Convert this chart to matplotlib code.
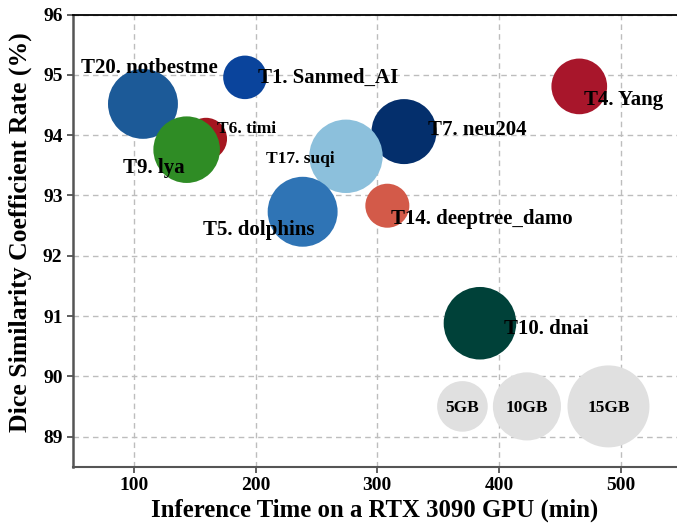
import matplotlib
matplotlib.use("Agg")
import matplotlib.pyplot as plt
import numpy as np

# ---- data ----
teams = ["T20. notbestme", "T1. Sanmed_AI", "T6. timi", "T9. lya", "T7. neu204",
         "T17. suqi", "T5. dolphins", "T14. deeptree_damo", "T4. Yang", "T10. dnai"]
time_min = [107.5, 191.3, 159.3, 143.4, 322.0, 274.3, 238.7, 308.3, 466.0, 384.4]
dsc = [94.52, 94.96, 93.94, 93.76, 94.06, 93.65, 92.73, 92.83, 94.81, 90.88]
memory_gb = [10.6, 3.4, 3.1, 9.5, 9.0, 11.8, 10.6, 3.5, 6.3, 11.5]
colors = ["#1c5a98", "#0a449c", "#a5161f", "#2f8c25", "#042f6c",
          "#8cc0dc", "#2f74b5", "#d35a49", "#a8162b", "#004139"]

legend_gb = [5, 10, 15]
legend_time = [370, 423, 490]
legend_dsc = [89.5, 89.5, 89.5]

# label placement (offset in pixels from bubble centre, alignment, size)
label_style = {
    "T20. notbestme": (6, 31, "center", 15),
    "T1. Sanmed_AI": (13, -6, "left", 15),
    "T6. timi": (11, 6, "left", 12.5),
    "T9. lya": (-64, -23, "left", 15),
    "T7. neu204": (24, -3, "left", 15),
    "T17. suqi": (-11, -7, "right", 12.5),
    "T5. dolphins": (12, -23, "right", 15),
    "T14. deeptree_damo": (4, -18, "left", 15),
    "T4. Yang": (5, -19, "left", 15),
    "T10. dnai": (24, -11, "left", 15),
}

DPI = 100
PX2PT = 72.0 / DPI


def size_from_gb(gb):
    area_px = 104.0 * np.asarray(gb, dtype=float) + 120.0
    return 4.0 * area_px * PX2PT ** 2  # s in points^2 (diameter^2)


plt.rcParams["font.family"] = ["Liberation Serif", "DejaVu Serif"]
plt.rcParams["font.weight"] = "bold"

fig = plt.figure(figsize=(6.77, 5.32), dpi=DPI)
ax = fig.add_axes([0.1078, 0.1228, 0.8922, 0.8496])

ax.set_xlim(50, 546.3)
ax.set_ylim(88.5, 96)
ax.set_xticks([100, 200, 300, 400, 500])
ax.set_yticks([89, 90, 91, 92, 93, 94, 95, 96])
ax.grid(True, linestyle=(0, (4, 3)), color="#bdbdbd", linewidth=1.0, zorder=0)
ax.set_axisbelow(True)

sizes = size_from_gb(memory_gb)
for i, t in enumerate(teams):
    ax.scatter(time_min[i], dsc[i], s=sizes[i], color=colors[i], edgecolors="none",
               zorder=2 + i * 0.01)

ax.scatter(legend_time, legend_dsc, s=size_from_gb(legend_gb), color="#e0e0e0",
           edgecolors="none", zorder=2)
for x, y, g in zip(legend_time, legend_dsc, legend_gb):
    ax.annotate(f"{g}GB", (x, y), xytext=(0, -6 * PX2PT), textcoords="offset points",
                ha="center", va="baseline", fontsize=12.5, fontweight="bold", zorder=5)

for i, t in enumerate(teams):
    dx, dy, ha, fs = label_style[t]
    ax.annotate(t, (time_min[i], dsc[i]), xytext=(dx * PX2PT, dy * PX2PT),
                textcoords="offset points", ha=ha, va="baseline", fontsize=fs,
                fontweight="bold", zorder=5)

ax.set_xlabel("Inference Time on a RTX 3090 GPU (min)", fontsize=17.8, fontweight="bold",
              labelpad=3)
ax.set_ylabel("Dice Similarity Coefficient Rate (%)", fontsize=18.5, fontweight="bold")
ax.yaxis.set_label_coords(-0.068, 0.518)
ax.tick_params(axis="both", labelsize=14, length=4, width=1.2, color="#444444")
for lab in ax.get_xticklabels() + ax.get_yticklabels():
    lab.set_fontweight("bold")

ax.spines["right"].set_visible(False)
ax.spines["top"].set_color("black")
ax.spines["top"].set_linewidth(1.3)
ax.spines["left"].set_color("#555555")
ax.spines["left"].set_linewidth(1.8)
ax.spines["bottom"].set_color("#555555")
ax.spines["bottom"].set_linewidth(1.5)

fig.savefig("out.png", dpi=DPI)
